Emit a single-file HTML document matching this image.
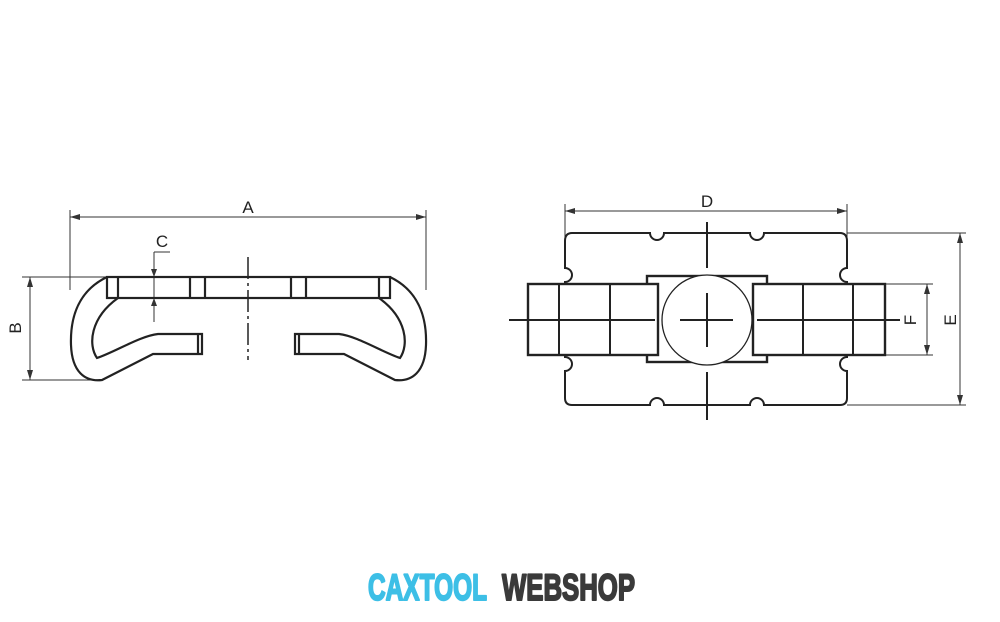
<!DOCTYPE html>
<html><head><meta charset="utf-8"><style>
html,body{margin:0;padding:0;background:#fff;}
</style></head><body>
<svg width="1000" height="617" viewBox="0 0 1000 617" xmlns="http://www.w3.org/2000/svg">
<g fill="none" stroke="#333" stroke-width="1">
<line x1="70" y1="210" x2="70" y2="290"/>
<line x1="426" y1="210" x2="426" y2="290"/>
<line x1="70" y1="217" x2="426" y2="217"/>
<line x1="22" y1="277" x2="108" y2="277"/>
<line x1="22" y1="380" x2="100" y2="380"/>
<line x1="30" y1="277" x2="30" y2="380"/>
<line x1="154" y1="252" x2="170" y2="252"/>
<line x1="154" y1="252" x2="154" y2="322"/>
<line x1="565" y1="204" x2="565" y2="240"/>
<line x1="847" y1="204" x2="847" y2="240"/>
<line x1="565" y1="211" x2="847" y2="211"/>
<line x1="847" y1="233" x2="966" y2="233"/>
<line x1="847" y1="405" x2="966" y2="405"/>
<line x1="960" y1="233" x2="960" y2="405"/>
<line x1="885" y1="284" x2="933" y2="284"/>
<line x1="885" y1="355" x2="933" y2="355"/>
<line x1="927" y1="284" x2="927" y2="355"/>
</g>
<g fill="#333">
<polygon points="70,217 80,214 80,220"/><polygon points="426,217 416,214 416,220"/>
<polygon points="30,277 27,287 33,287"/><polygon points="30,380 27,370 33,370"/>
<polygon points="154,277 151,269 157,269"/><polygon points="154,298 151,306 157,306"/>
<polygon points="565,211 575,208 575,214"/><polygon points="847,211 837,208 837,214"/>
<polygon points="960,233 957,243 963,243"/><polygon points="960,405 957,395 963,395"/>
<polygon points="927,284 924,294 930,294"/><polygon points="927,355 924,345 930,345"/>
</g>
<g font-family="Liberation Sans, sans-serif" font-size="17" fill="#222">
<text x="248" y="213" text-anchor="middle">A</text>
<text x="162" y="247" text-anchor="middle">C</text>
<text x="707" y="207" text-anchor="middle">D</text>
<text transform="translate(21,328) rotate(-90)" text-anchor="middle">B</text>
<text transform="translate(916,320) rotate(-90)" text-anchor="middle">F</text>
<text transform="translate(956,320) rotate(-90)" text-anchor="middle">E</text>
</g>
<g fill="none" stroke="#222" stroke-width="2.2">
<rect x="107" y="277" width="283" height="21"/>
<line x1="190" y1="277" x2="190" y2="298"/><line x1="205" y1="277" x2="205" y2="298"/>
<line x1="291" y1="277" x2="291" y2="298"/><line x1="306" y1="277" x2="306" y2="298"/>
<line x1="118" y1="277" x2="118" y2="298"/><line x1="379" y1="277" x2="379" y2="298"/>
<path d="M107,277 C80,290 70,315 71,345 C72,372 85,382 102,380 L153,354 L202,354 L202,334 L158,334 C140,336 115,352 97,358 C88,345 90,318 118,298"/>
<path d="M390,277 C417,290 427,315 426,345 C425,372 412,382 395,380 L344,354 L295,354 L295,334 L339,334 C357,336 382,352 400,358 C409,345 407,318 379,298"/>
<line x1="198" y1="334" x2="198" y2="354"/><line x1="299" y1="334" x2="299" y2="354"/>
</g>
<line x1="248" y1="257" x2="248" y2="360" stroke="#222" stroke-width="1.5" stroke-dasharray="22,4,3,4"/>
<g fill="none" stroke="#222" stroke-width="2">
<path d="M572,233 L650,233 A7,7 0 0 0 664,233 L750,233 A7,7 0 0 0 764,233 L840,233 Q847,233 847,241 L847,268 A7,7 0 0 0 847,282 L847,357 A7,7 0 0 0 847,371 L847,398 Q847,405 840,405 L764,405 A7,7 0 0 0 750,405 L664,405 A7,7 0 0 0 650,405 L572,405 Q565,405 565,398 L565,371 A7,7 0 0 0 565,357 L565,282 A7,7 0 0 0 565,268 L565,241 Q565,233 572,233 Z"/>
<rect x="647" y="276" width="120" height="86" fill="#fff" stroke-width="2.4"/>
<rect x="528" y="284" width="130" height="71" fill="#fff" stroke-width="2.4"/>
<rect x="753" y="284" width="132" height="71" fill="#fff" stroke-width="2.4"/>
<line x1="559" y1="284" x2="559" y2="355"/><line x1="610" y1="284" x2="610" y2="355"/>
<line x1="803" y1="284" x2="803" y2="355"/><line x1="853" y1="284" x2="853" y2="355"/>
<circle cx="707" cy="320" r="45" fill="#fff" stroke-width="1.3"/>
<line x1="509" y1="320" x2="655" y2="320"/><line x1="757" y1="320" x2="900" y2="320"/>
<line x1="680" y1="320" x2="733" y2="320"/><line x1="707" y1="293" x2="707" y2="347"/>
<line x1="707" y1="222" x2="707" y2="268"/><line x1="707" y1="372" x2="707" y2="420"/>
</g>
<g font-family="Liberation Sans, sans-serif" font-weight="bold" font-size="37" stroke-width="2" stroke-linejoin="round">
<text x="368" y="600" fill="#3dbfe6" stroke="#3dbfe6" textLength="119" lengthAdjust="spacingAndGlyphs">CAXTOOL</text>
<text x="502" y="600" fill="#3a3a3a" stroke="#3a3a3a" textLength="133" lengthAdjust="spacingAndGlyphs">WEBSHOP</text>
</g>
</svg>
</body></html>
